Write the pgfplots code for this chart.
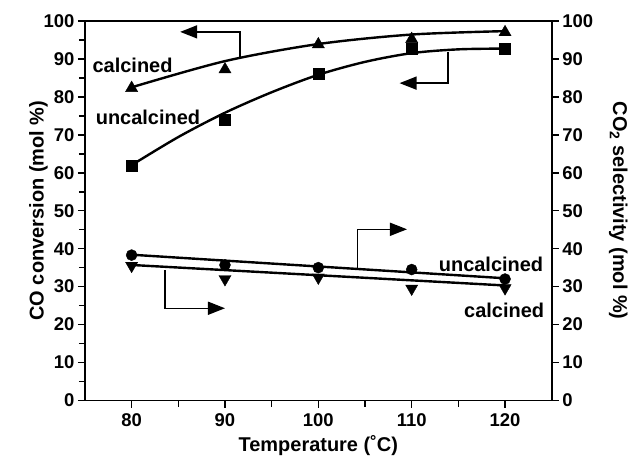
\documentclass[border=0pt]{standalone}
\usepackage{pgfplots}
\pgfplotsset{compat=1.18}
\usepackage{fontspec}
\setmainfont{Liberation Sans}
\usetikzlibrary{arrows.meta}
\begin{document}
\begin{tikzpicture}
\pgfplotsset{
  common/.style={
    scale only axis, width=466bp, height=379bp,
    xmin=75, xmax=125, ymin=0, ymax=100,
    axis line style={line width=1.8bp},
    tick style={line width=1.6bp, black},
    tick align=outside,
    major tick length=7bp, minor tick length=6bp,
    /pgf/number format/assume math mode=true,
    tick label style={font=\bfseries\fontsize{18.5}{18.5}\selectfont},
    label style={font=\bfseries\fontsize{20}{20}\selectfont},
    clip=false,
  }
}
\begin{axis}[common,
  xtick={80,90,...,120}, minor x tick num=1,
  ytick={0,10,...,100}, minor y tick num=1,
  xtick pos=bottom, ytick pos=left,
  xticklabel style={yshift=-3bp},
  xlabel={Temperature (˚C)},
  xlabel shift=2bp,
  ylabel={CO conversion (mol \%)},
  ylabel shift=-11bp,
]
% bounding box to keep the reference margins
\path (axis cs:65.9,-16.1) rectangle (axis cs:133.6,105.5);
% calcined conversion
\addplot[only marks, mark=triangle*, mark size=7bp, black] coordinates {(80,82.3)(90,87.2)(100,93.8)(110,95.2)(120,97.0)};
\addplot[smooth, line width=2.4bp, black] coordinates {(80,82.5)(90,89.4)(100,93.9)(110,96.4)(120,97.3)};
% uncalcined conversion
\addplot[only marks, mark=square*, mark size=5.5bp, black] coordinates {(80,61.9)(90,74.0)(100,86.0)(110,92.6)(120,92.6)};
\addplot[smooth, line width=2.4bp, black] coordinates {(80,62)(85,69.4)(90,75.8)(95,81.2)(100,85.8)(105,89.2)(110,91.5)(115,92.5)(120,92.7)};
% uncalcined selectivity
\addplot[only marks, mark=*, mark size=5.5bp, black] coordinates {(80,38.3)(90,35.7)(100,35.0)(110,34.5)(120,32.0)};
\addplot[line width=2.4bp, black] coordinates {(80,38.4)(120,32.2)};
% calcined selectivity
\addplot[only marks, mark=triangle*, mark size=7bp, mark options={rotate=180}, black] coordinates {(80,35.5)(90,32.0)(100,32.4)(110,29.5)(120,29.6)};
\addplot[line width=2.4bp, black] coordinates {(80,35.7)(120,30.3)};
% arrows
\tikzset{arr/.style={line width=1.5bp, -{Triangle[length=17bp,width=13bp]}}}
\draw[arr] (axis cs:91.6,90.5) |- (axis cs:85.2,97.1);
\draw[arr] (axis cs:113.9,91.8) |- (axis cs:108.7,83.6);
\draw[arr] (axis cs:104.2,34.8) |- (axis cs:109.5,45.1);
\draw[arr] (axis cs:83.6,34.3) |- (axis cs:90,24.3);
% labels
\tikzset{lab/.style={font=\bfseries\fontsize{20}{20}\selectfont, inner sep=0pt}}
\node[lab] at (axis cs:80.1,88.4) {calcined};
\node[lab] at (axis cs:81.75,74.7) {uncalcined};
\node[lab] at (axis cs:118.5,35.9) {uncalcined};
\node[lab] at (axis cs:119.9,23.7) {calcined};
\end{axis}
\begin{axis}[common,
  axis x line=none, axis y line*=right,
  ytick={0,10,...,100}, ytick pos=right,
  ylabel={CO\textsubscript{2} selectivity (mol \%)},
  ylabel style={rotate=180},
  ylabel shift=9bp,
]
\end{axis}
\end{tikzpicture}
\end{document}
